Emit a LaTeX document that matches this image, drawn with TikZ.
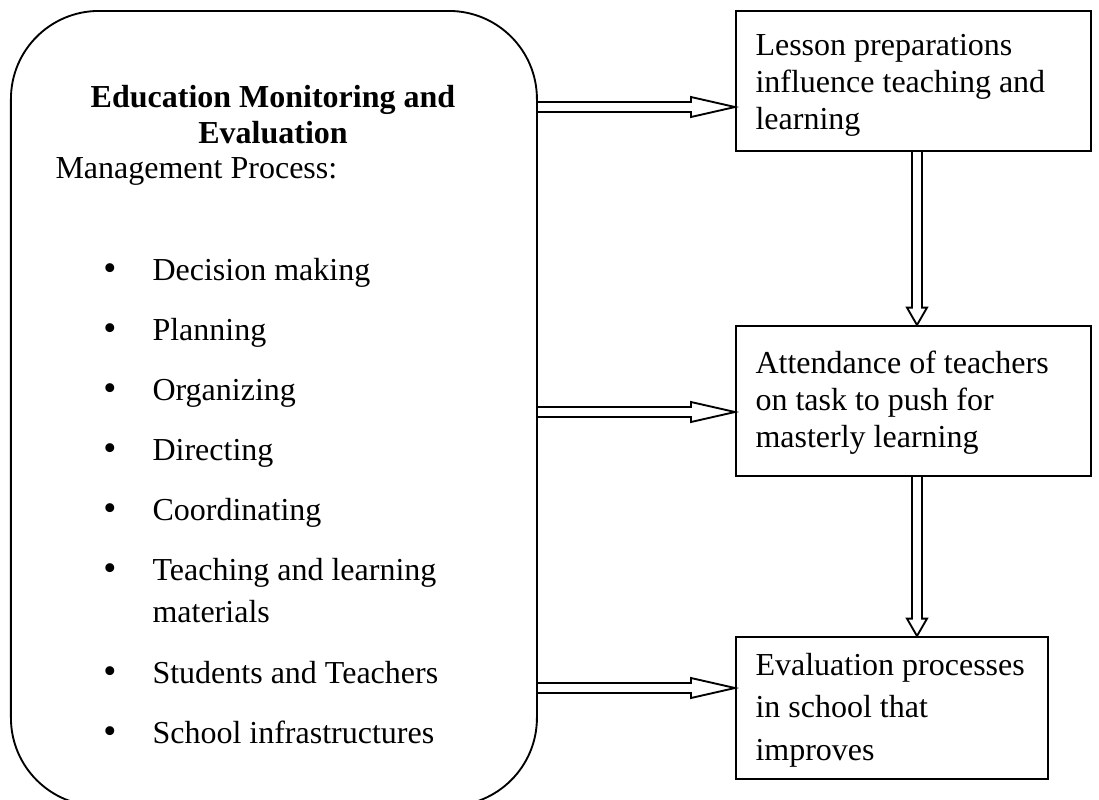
\documentclass[tikz,border=0pt]{standalone}
\usepackage{fontspec}
\setmainfont{Liberation Serif}
\usetikzlibrary{calc}
\begin{document}
\begin{tikzpicture}[x=0.375pt,y=-0.375pt,
  every node/.style={inner sep=0pt, font=\fontsize{12}{16}\selectfont},
  tight/.style={font=\fontsize{12}{14}\selectfont},
  frame/.style={draw=black, line width=0.7pt},
  box/.style={frame, anchor=north west, minimum width=133.125pt},
  txt/.style={anchor=base west},
  dot/.style={anchor=base},
  hollow/.style={draw=black, line width=0.7pt, line join=miter},
  harrow/.style={hollow, to path={let \p1=(\tikztostart), \p2=(\tikztotarget) in
      (\x1,\y1+1.875pt) -- (\x2-16.5pt,\y1+1.875pt) -- (\x2-16.5pt,\y1+3.75pt)
      -- (\x2,\y1) -- (\x2-16.5pt,\y1-3.75pt) -- (\x2-16.5pt,\y1-1.875pt) -- (\x1,\y1-1.875pt)}},
  varrow/.style={hollow, to path={let \p1=(\tikztostart), \p2=(\tikztotarget) in
      (\x1-1.875pt,\y1) -- (\x1-1.875pt,\y2+6.5pt) -- (\x1-3.75pt,\y2+6.5pt)
      -- (\x1,\y2) -- (\x1+3.75pt,\y2+6.5pt) -- (\x1+1.875pt,\y2+6.5pt) -- (\x1+1.875pt,\y1)}}]

\useasboundingbox (0,0) rectangle (1099,799);

% management process panel
\node[frame, rounded corners=33pt, anchor=north west,
      minimum width=197.25pt, minimum height=298.125pt] (mm) at (10,10) {};

\node[dot] (t1) at (273,107) {\hbox to 0pt{\hss\bfseries Education Monitoring and\hss}};
\node[dot] (t2) at (273,143) {\hbox to 0pt{\hss\bfseries Evaluation\hss}};
\node[txt] (mp) at (55,178) {Management Process:};

% bulleted list
\foreach \n/\y/\t in {1/280/Decision making, 2/340/Planning, 3/400/Organizing,
    4/460/Directing, 5/520/Coordinating, 7/683/Students and Teachers,
    8/743/School infrastructures}{
  \node[dot] (d\n) at (110,\y) {\fontsize{14}{14}\selectfont •};
  \node[txt] (i\n) at (152,\y) {\t};
}
\node[dot] (d6) at (110,580) {\fontsize{14}{14}\selectfont •};
\node[txt] (i6) at (152,580) {\vtop{\hbox{Teaching and learning}\hbox{materials}}};

% outcome boxes
\node[box, minimum height=52.5pt] (b1) at (735,10) {};
\node[box, minimum height=56.25pt] (b2) at (735,325) {};
\node[box, minimum width=117pt, minimum height=53.25pt] (b3) at (735,636) {};

\node[txt, tight] (b1t) at (755,55)
  {\vtop{\hbox{Lesson preparations}\hbox{influence teaching and}\hbox{learning}}};
\node[txt, tight] (b2t) at (755,373)
  {\vtop{\hbox{Attendance of teachers}\hbox{on task to push for}\hbox{masterly learning}}};
\node[txt] (b3t) at (755,675)
  {\vtop{\hbox{Evaluation processes}\hbox{in school that}\hbox{improves}}};

% hollow arrows
\coordinate (y1) at (0,107);
\coordinate (y2) at (0,412);
\coordinate (y3) at (0,688);
\coordinate (vx) at (917,0);

\draw[harrow] (mm.east |- y1) to (b1.west |- y1);
\draw[harrow] (mm.east |- y2) to (b2.west |- y2);
\draw[harrow] (mm.east |- y3) to (b3.west |- y3);

\draw[varrow] (b1.south -| vx) to (b2.north -| vx);
\draw[varrow] (b2.south -| vx) to (b3.north -| vx);

\end{tikzpicture}
\end{document}
